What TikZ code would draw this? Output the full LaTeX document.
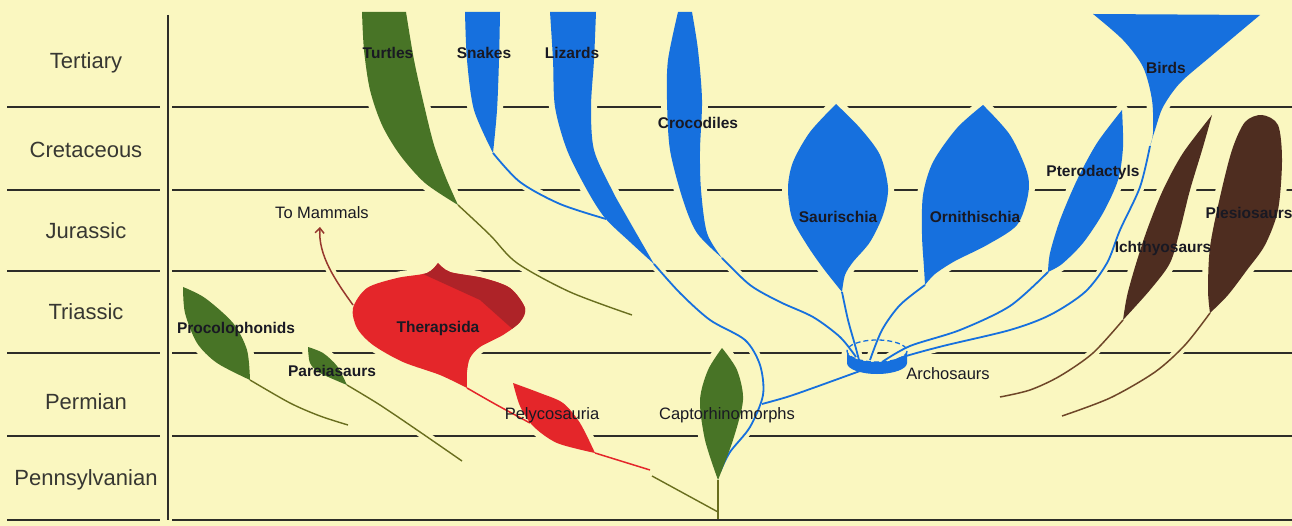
\documentclass[tikz,border=0pt]{standalone}
\usepackage{fontspec}
\setmainfont{Liberation Sans}
\usetikzlibrary{arrows.meta}
\definecolor{bg}{RGB}{250,247,192}
\definecolor{gridc}{RGB}{45,45,40}
\definecolor{cBlue}{RGB}{22,112,222}
\definecolor{cGreen}{RGB}{72,116,38}
\definecolor{cOlive}{RGB}{105,110,30}
\definecolor{cRed}{RGB}{228,38,42}
\definecolor{cDarkRed}{RGB}{165,35,40}
\definecolor{cBrown}{RGB}{78,45,32}
\definecolor{cBrownLine}{RGB}{110,70,40}
\definecolor{cMam}{RGB}{150,55,45}
\definecolor{txt}{RGB}{25,25,35}
\definecolor{ptxt}{RGB}{55,55,50}
% shapes
\newcommand\PTurtle{plot[smooth] coordinates {(362,12)(364,50)(370,90)(382,125)(400,155)(425,183)(458,205)} -- plot[smooth] coordinates {(458,205)(446,178)(434,145)(424,105)(414,60)(406,12)} -- cycle}
\newcommand\LTurtle{plot[smooth] coordinates {(458,205)(490,235)(517,263)(570,292)(632,315)}}
\newcommand\PSnake{plot[smooth] coordinates {(465,12)(467,60)(474,110)(493,153)} -- plot[smooth] coordinates {(493,153)(497,110)(499,60)(500,12)} -- cycle}
\newcommand\LSnake{plot[smooth] coordinates {(493,153)(520,182)(560,204)(606,219)}}
\newcommand\PLizard{plot[smooth] coordinates {(550,12)(553,60)(555,107)(567,150)(587,190)(605,218)(630,242)(654,264)} -- plot[smooth] coordinates {(654,264)(627,217)(612,190)(594,150)(591,107)(594,60)(596,12)} -- cycle}
\newcommand\LLizard{plot[smooth] coordinates {(654,264)(680,293)(710,320)(745,340)(760,365)(763,395)(750,427)(730,452)(720,472)}}
\newcommand\PCroc{plot[smooth] coordinates {(678,12)(668,60)(667,100)(670,150)(683,200)(697,233)(722,258)} -- plot[smooth] coordinates {(722,258)(707,233)(701,190)(700,150)(702,100)(698,50)(692,12)} -- cycle}
\newcommand\LCroc{plot[smooth] coordinates {(722,258)(750,285)(780,302)(813,317)(840,337)(856,357)}}
\newcommand\LJunc{plot[smooth] coordinates {(860,371)(813,388)(787,397)(762,404)}}
\newcommand\PSaur{plot[smooth] coordinates {(836,104)(810,132)(793,162)(788,188)(792,218)(807,245)(823,268)(842,292)} -- plot[smooth] coordinates {(842,292)(845,275)(853,262)(870,242)(883,215)(888,188)(880,155)(860,128)(836,104)}}
\newcommand\LSaur{plot[smooth] coordinates {(842,292)(848,320)(855,345)(859,360)}}
\newcommand\POrn{plot[smooth] coordinates {(983,105)(957,128)(933,162)(923,195)(922,235)(924,268)(925,285)} -- plot[smooth] coordinates {(925,285)(935,274)(955,261)(987,245)(1017,225)(1028,195)(1027,172)(1010,135)(983,105)}}
\newcommand\LOrn{plot[smooth] coordinates {(925,285)(900,305)(882,330)(870,360)}}
\newcommand\PPter{plot[smooth] coordinates {(1122,110)(1097,143)(1077,180)(1060,220)(1050,253)(1048,272)} -- plot[smooth] coordinates {(1048,272)(1062,264)(1083,243)(1103,213)(1118,180)(1123,147)(1122,110)}}
\newcommand\LPter{plot[smooth] coordinates {(1048,272)(1010,306)(960,330)(910,346)(882,362)}}
\newcommand\PBird{plot[smooth] coordinates {(1093,14)(1123,40)(1143,67)(1152,100)(1153,133)(1150,146)} -- plot[smooth] coordinates {(1150,146)(1155,130)(1163,107)(1180,83)(1210,57)(1260,15)} -- cycle}
\newcommand\LBird{plot[smooth] coordinates {(1150,146)(1140,187)(1120,230)(1107,263)(1085,292)(1050,315)(1010,330)(943,346)(903,357)(888,364)}}
\newcommand\PIch{plot[smooth] coordinates {(1212,115)(1183,153)(1163,190)(1147,230)(1135,267)(1127,296)(1123,320)} -- plot[smooth] coordinates {(1123,320)(1150,290)(1170,263)(1180,230)(1190,190)(1203,147)(1212,115)}}
\newcommand\LIch{plot[smooth] coordinates {(1123,320)(1093,353)(1060,376)(1030,390)(1000,397)}}
\newcommand\PPle{plot[smooth] coordinates {(1210,313)(1208,290)(1210,247)(1220,197)(1232,150)(1245,122)(1262,115)(1278,125)(1282,160)(1278,210)(1265,245)(1247,270)(1228,295)(1210,313)}}
\newcommand\LPle{plot[smooth] coordinates {(1210,313)(1185,345)(1155,372)(1110,398)(1062,416)}}
\newcommand\PCapt{plot[smooth] coordinates {(722,348)(708,370)(700,400)(705,440)(718,480)} -- plot[smooth] coordinates {(718,480)(733,440)(743,400)(737,370)(722,348)}}
\newcommand\PTher{plot[smooth] coordinates {(438,263)(427,273)(397,278)(367,288)(353,308)(357,328)(373,345)(403,362)(440,375)(467,388)} -- plot[smooth] coordinates {(467,388)(467,372)(470,358)(480,347)(503,335)(520,322)(525,308)(510,288)(483,278)(450,272)(438,263)}}
\newcommand\LTher{plot[smooth] coordinates {(467,388)(495,404)(530,423)}}
\newcommand\PPely{plot[smooth] coordinates {(513,383)(540,393)(563,403)(580,423)(595,453)} -- plot[smooth] coordinates {(595,453)(557,443)(533,426)(520,406)(513,383)}}
\newcommand\PProc{plot[smooth] coordinates {(183,287)(185,313)(197,343)(217,363)(250,380)} -- plot[smooth] coordinates {(250,380)(247,350)(233,323)(205,298)(183,287)}}
\newcommand\LProc{plot[smooth] coordinates {(250,380)(290,403)(320,416)(348,425)}}
\newcommand\PPare{plot[smooth] coordinates {(308,347)(310,363)(320,373)(347,385)} -- plot[smooth] coordinates {(347,385)(337,366)(323,353)(308,347)}}
\newcommand\LPare{plot[smooth] coordinates {(347,385)(380,405)(420,432)(462,461)}}
\newcommand\LMam{(353,305) .. controls (335,280) and (318,255) .. (320,227)}
\begin{document}
\begin{tikzpicture}[x=1pt,y=-1pt,
  gridline/.style={draw=gridc,line width=1.6pt},
  halo/.style={draw=bg,line width=12pt,line join=round,line cap=round},
  thinhalo/.style={draw=bg,line width=9pt,line cap=round},
  bline/.style={draw=cBlue,line width=1.8pt},
  gline/.style={draw=cOlive,line width=1.4pt},
  rline/.style={draw=cRed,line width=1.5pt},
  brline/.style={draw=cBrownLine,line width=1.5pt},
  period/.style={font=\fontsize{22}{24}\selectfont,text=ptxt,inner sep=0pt},
  lab/.style={font=\bfseries\fontsize{15.5}{17}\selectfont,text=txt,inner sep=0pt},
  labr/.style={font=\fontsize{16.5}{18}\selectfont,text=txt,inner sep=0pt}]
\useasboundingbox (0,0) rectangle (1292,526);
\fill[bg] (0,0) rectangle (1292,526);
% grid
\foreach \yy in {107,190,271,353,436,520}{
  \draw[gridline] (7,\yy) -- (160,\yy);
  \draw[gridline] (172,\yy) -- (1292,\yy);}
\draw[gridline,line width=2pt] (168,15) -- (168,520);
% period labels
\node[period] (tert) at (86,63) {Tertiary};
\node[period] (cret) at (86,150) {Cretaceous};
\node[period] (jura) at (86,231) {Jurassic};
\node[period] (tria) at (86,312) {Triassic};
\node[period] (perm) at (86,402) {Permian};
\node[period] (penn) at (86,480) {Pennsylvanian};
% halos (gaps in the period lines)
\foreach \p in {\PTurtle,\PSnake,\PLizard,\PCroc,\PSaur,\POrn,\PPter,\PBird,\PIch,\PPle,\PCapt,\PTher,\PPely,\PProc,\PPare}{\path[halo] \p;}
\foreach \p in {\LTurtle,\LSnake,\LLizard,\LCroc,\LJunc,\LSaur,\LOrn,\LPter,\LBird,\LIch,\LPle,\LTher,\LProc,\LPare,\LMam}{\path[thinhalo] \p;}
\path[thinhalo] (595,453) -- (650,470);
\path[thinhalo] (652,476) -- (710,507);
\path[thinhalo] (718,480) -- (718,505);
\path[halo] (877,357) ellipse [x radius=30,y radius=15];
% green, early branches
\fill[cGreen] \PProc;
\draw[gline] \LProc;
\fill[cGreen] \PPare;
\draw[gline] \LPare;
\fill[cGreen] \PTurtle;
\draw[gline] \LTurtle;
% red branches
\draw[rline] \LTher;
\draw[rline] (595,453) -- (650,470);
\fill[cRed] \PPely;
\fill[cRed] \PTher;
\begin{scope}
  \clip \PTher;
  \fill[cDarkRed,opacity=0.85] (418,255) -- (545,255) -- (545,345) -- (517,333) -- (480,300) -- (423,274) -- cycle;
\end{scope}
\draw[cMam,line width=1.5pt,-{Straight Barb[length=5pt,width=9pt]}] \LMam;
% blue (reptile) branches
\draw[bline] \LSnake;
\fill[cBlue] \PSnake;
\draw[bline] \LLizard;
\fill[cBlue] \PLizard;
\draw[bline] \LCroc;
\fill[cBlue] \PCroc;
\draw[bline] \LJunc;
\fill[cBlue] \PSaur;
\fill[cBlue] \POrn;
\fill[cBlue] \PPter;
\fill[cBlue] \PBird;
% archosaur disc
\fill[cBlue] (847,351) arc[start angle=180,end angle=0,x radius=30,y radius=11] -- (907,363) arc[start angle=0,end angle=180,x radius=30,y radius=11] -- cycle;
\draw[cBlue,line width=1.3pt,dash pattern=on 5pt off 3pt] (877,351) ellipse [x radius=30,y radius=11];
\draw[bline] \LSaur;
\draw[bline] \LOrn;
\draw[bline] \LPter;
\draw[bline] \LBird;
% captorhinomorphs
\draw[gline] (652,476) -- (718,512);
\draw[gline] (718,480) -- (718,519);
\fill[cGreen] \PCapt;
% marine reptiles
\draw[brline] \LIch;
\fill[cBrown] \PIch;
\draw[brline] \LPle;
\fill[cBrown] \PPle;
% labels
\node[lab] (lTurtles) at (388,53) {Turtles};
\node[lab] (lSnakes) at (484,53) {Snakes};
\node[lab] (lLizards) at (572,53) {Lizards};
\node[lab] (lCroc) at (698,123) {Crocodiles};
\node[lab] (lSaur) at (838,217) {Saurischia};
\node[lab] (lOrn) at (975,217) {Ornithischia};
\node[lab] (lPter) at (1093,172) {Pterodactyls};
\node[lab] (lBirds) at (1166,68) {Birds};
\node[lab] (lPle) at (1249,213) {Plesiosaurs};
\node[lab] (lIch) at (1163,248) {Ichthyosaurs};
\node[labr] (lMam) at (322,213) {To Mammals};
\node[lab] (lTher) at (438,328) {Therapsida};
\node[lab] (lProc) at (236,329) {Procolophonids};
\node[lab] (lPare) at (332,371) {Pareiasaurs};
\node[labr] (lPely) at (552,415) {Pelycosauria};
\node[labr] (lCapt) at (727,415) {Captorhinomorphs};
\node[labr] (lArch) at (948,374) {Archosaurs};
\end{tikzpicture}
\end{document}
